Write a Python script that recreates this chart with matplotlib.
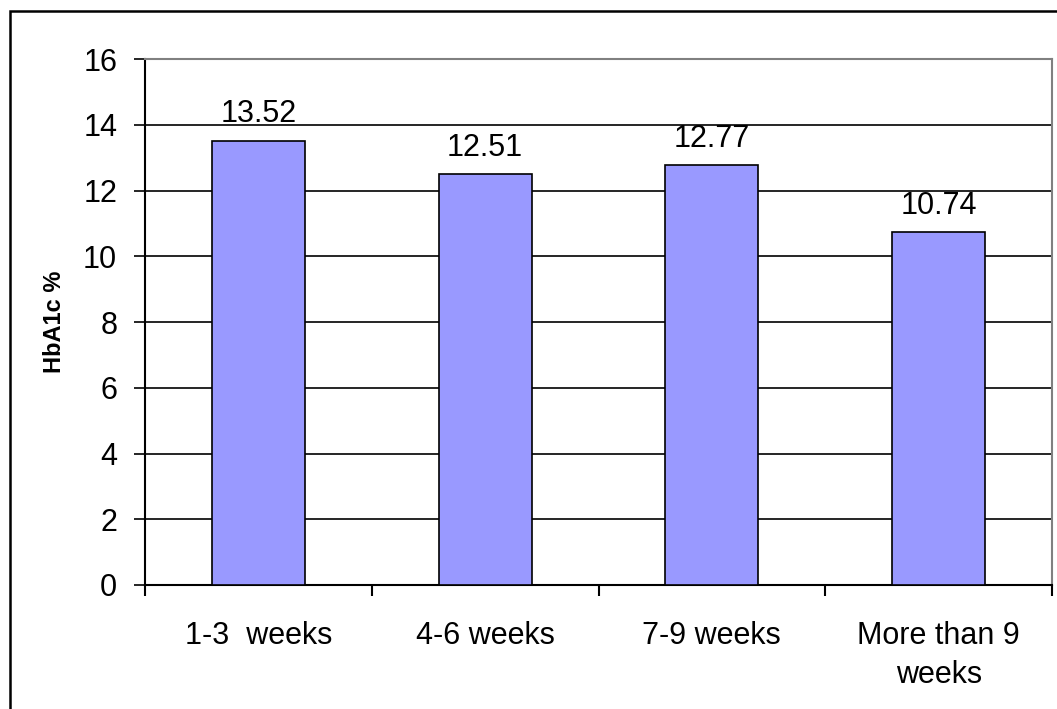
import matplotlib.pyplot as plt
import matplotlib.patches as patches
import numpy as np

plt.rcParams["font.family"] = ["Liberation Sans", "DejaVu Sans"]

# Data
categories = ["1-3  weeks", "4-6 weeks", "7-9 weeks", "More than 9\nweeks"]
hba1c = [13.52, 12.51, 12.77, 10.74]
y_ticks = [0, 2, 4, 6, 8, 10, 12, 14, 16]

fig = plt.figure(figsize=(10.57, 7.09), dpi=100)
ax = fig.add_axes([145 / 1057, 1 - 585 / 709, (1052 - 145) / 1057, (585 - 59) / 709])

x = np.arange(len(categories))
ax.bar(x, hba1c, width=0.41, color="#9999FF", edgecolor="black", linewidth=1.2, zorder=3)

# value labels above the bars
for xi, v in zip(x, hba1c):
    ax.annotate(f"{v:.2f}", (xi, v), xytext=(0, 13), textcoords="offset points",
                ha="center", va="baseline", fontsize=22)

ax.set_xlim(-0.5, len(categories) - 0.5)
ax.set_ylim(0, 16)
ax.set_yticks(y_ticks)
ax.set_xticks(x)
ax.set_xticklabels(categories, fontsize=22, linespacing=1.4)
ax.tick_params(axis="x", length=0, pad=26)
ax.tick_params(axis="y", labelsize=22, length=8, width=1.2, pad=12, color="black")

# category separator ticks on the x axis
ax.set_xticks(np.arange(len(categories) + 1) - 0.5, minor=True)
ax.tick_params(axis="x", which="minor", length=8, width=1.5, direction="out")

ax.yaxis.grid(True, color="black", linewidth=1.2)
ax.set_axisbelow(True)

ax.spines["left"].set_color("black")
ax.spines["left"].set_linewidth(1.5)
ax.spines["bottom"].set_color("black")
ax.spines["bottom"].set_linewidth(1.5)
ax.spines["top"].set_color("#808080")
ax.spines["top"].set_linewidth(1.5)
ax.spines["right"].set_color("#808080")
ax.spines["right"].set_linewidth(1.5)

ax.set_ylabel("HbA1c %", fontsize=17, fontweight="bold", labelpad=12)

# outer chart border (only left and top visible)
fig.patches.append(patches.Rectangle((10 / 1057, -0.1), 1.2, (709 - 11) / 709 + 0.1,
                                     transform=fig.transFigure, fill=False,
                                     edgecolor="black", linewidth=1.8))

fig.savefig("out.png", dpi=100)
